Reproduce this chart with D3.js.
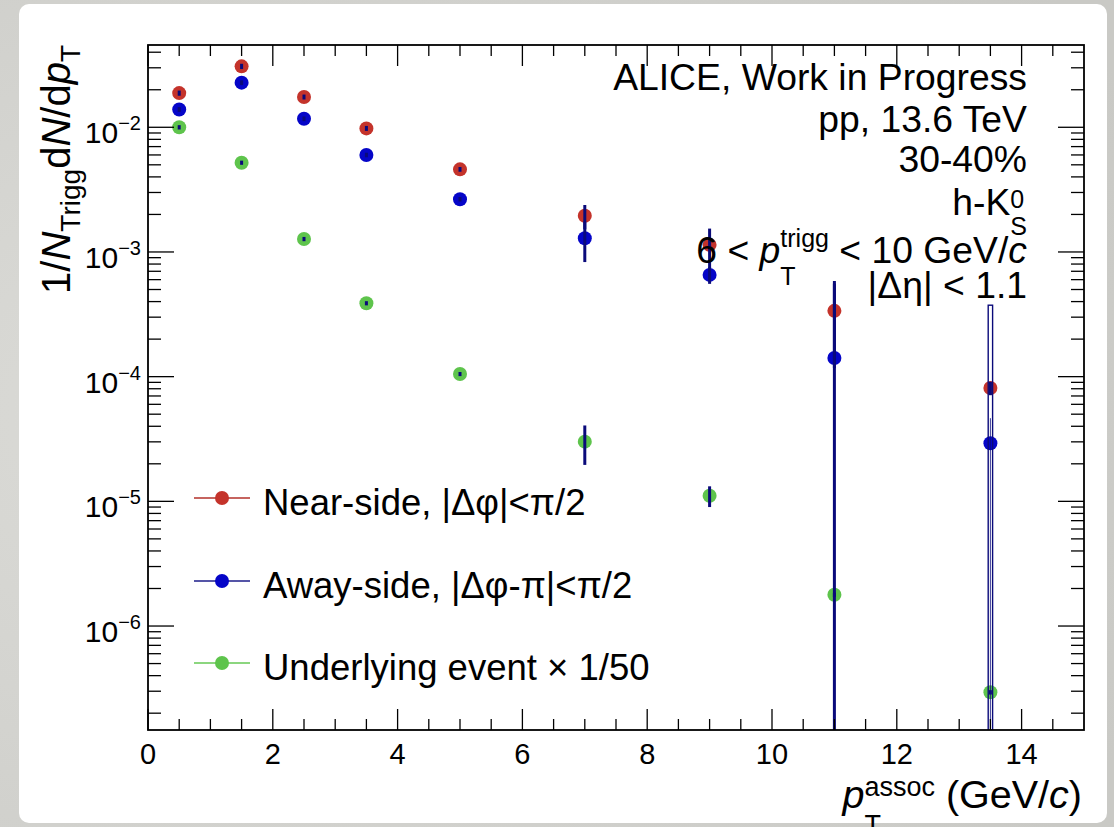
<!DOCTYPE html>
<html><head><meta charset="utf-8">
<script src="https://cdn.jsdelivr.net/npm/d3@7"></script>
<style>
body{margin:0;background:#fff;}
svg{display:block;}
text{font-family:"Liberation Sans",Arial,Helvetica,sans-serif;fill:#000;}
</style>
</head><body>
<svg id="c" width="1114" height="827"></svg>
<script>
// ---------------- data ----------------
const pT = [0.5, 1.5, 2.5, 3.5, 5, 7, 9, 11, 13.5];
const nearSide = [0.0188, 0.0308, 0.0175, 0.0098, 0.0046, 0.00195, 0.00114, 3.37e-4, 8.1e-5];
const nearErr  = [0.0009, 0.0015, 0.0008, 0.00045, 0.0002, 0.00043, 0.0004, 2.2e-4, 1e-5];
const awaySide = [0.0139, 0.0228, 0.0117, 0.0060, 0.00265, 0.00129, 6.55e-4, 1.41e-4, 2.92e-5];
const awayErr  = [0.0006, 0.001, 0.0005, 0.00025, 0.00011, 0.00046, 1.0e-4, 4.44e-4, 3.45e-4];
const underlying = [0.0100, 0.0052, 0.00127, 3.88e-4, 1.05e-4, 3.01e-5, 1.11e-5, 1.78e-6, 2.94e-7];
const ueErr      = [0.0004, 0.0002, 5e-5, 1.5e-5, 4e-6, 1.05e-5, 2.1e-6, 7e-8, 1.2e-8];
const xTickLabels = ["0", "2", "4", "6", "8", "10", "12", "14"];
const yTickExponents = [-6, -5, -4, -3, -2];
const legendLabels = ["Near-side, |\u0394\u03c6|<\u03c0/2", "Away-side, |\u0394\u03c6-\u03c0|<\u03c0/2", "Underlying event \u00d7 1/50"];

// ---------------- setup ----------------
const svg = d3.select("#c");
const W = 1114, H = 827;
const L = 148, R = 1084, T = 45, B = 730;

// background
const defs = svg.append("defs");
const rg = defs.append("radialGradient").attr("id", "bg").attr("cx", "20%").attr("cy", "50%").attr("r", "90%");
rg.append("stop").attr("offset", "0%").attr("stop-color", "#dcdcd8");
rg.append("stop").attr("offset", "100%").attr("stop-color", "#c9c9c5");
svg.append("rect").attr("width", W).attr("height", H).attr("fill", "url(#bg)");
svg.append("rect").attr("x", 19).attr("y", 4).attr("width", 1088).attr("height", 819).attr("rx", 10).attr("fill", "#fff");

const x = d3.scaleLinear().domain([0, 15]).range([L, R]);
const y = d3.scaleLog().domain([1.466e-7, 0.0457]).range([B, T]);

defs.append("clipPath").attr("id", "clip").append("rect")
  .attr("x", L).attr("y", T).attr("width", R - L).attr("height", B - T);

const colors = { near: "#c4332b", away: "#0505c8", ue: "#5ec44c" };
const lineColors = { near: "#b3302a", away: "#1c1c8a", ue: "#66c855" };
const errColor = "#0a0a7a";

// ---------------- rich text helper ----------------
function rich(parent, parts, size) {
  const g = parent.append("g");
  let cx = 0;
  parts.forEach(p => {
    if (p.stack) {
      let w = 0;
      p.stack.forEach(q => {
        const t = g.append("text").attr("x", cx).attr("y", q.dy || 0)
          .style("font-size", (q.size || size) + "px").text(q.t);
        if (q.it) t.style("font-style", "italic");
        w = Math.max(w, t.node().getComputedTextLength());
      });
      cx += w;
    } else {
      const t = g.append("text").attr("x", cx).attr("y", p.dy || 0)
        .style("font-size", (p.size || size) + "px").style("white-space", "pre")
        .attr("xml:space", "preserve").text(p.t);
      if (p.it) t.style("font-style", "italic");
      cx += t.node().getComputedTextLength();
    }
  });
  return { g, width: cx };
}

// ---------------- series ----------------
const series = [
  { key: "near", vals: nearSide, errs: nearErr },
  { key: "away", vals: awaySide, errs: awayErr },
  { key: "ue", vals: underlying, errs: ueErr }
];

const plot = svg.append("g").attr("clip-path", "url(#clip)");

// markers
series.forEach(s => {
  plot.selectAll(null).data(pT.map((p, i) => ({ p, v: s.vals[i] })))
    .enter().append("circle")
    .attr("cx", d => x(d.p)).attr("cy", d => y(d.v)).attr("r", 7)
    .attr("fill", colors[s.key]);
});

// error bars
const yMin = y.domain()[0];
series.forEach(s => {
  const pts = pT.map((p, i) => ({ p, v: s.vals[i], e: s.errs[i], last: i === pT.length - 1 }));
  pts.forEach(d => {
    const lo = d.v - d.e;
    const yLo = lo > yMin ? y(lo) : B + 2;
    const yHi = y(d.v + d.e);
    if (s.key === "away" && d.last) {
      plot.append("rect").attr("x", x(d.p) - 2.2).attr("y", yHi)
        .attr("width", 4.4).attr("height", yLo - yHi)
        .attr("fill", "none").attr("stroke", errColor).attr("stroke-width", 1.4);
      plot.append("line").attr("x1", x(d.p)).attr("x2", x(d.p))
        .attr("y1", y(d.v + d.e * 0.05)).attr("y2", yLo)
        .attr("stroke", errColor).attr("stroke-width", 0.8);
    } else {
      plot.append("line").attr("x1", x(d.p)).attr("x2", x(d.p))
        .attr("y1", yHi).attr("y2", yLo)
        .attr("stroke", errColor).attr("stroke-width", 3);
    }
  });
});

// ---------------- axes / frame ----------------
const ax = svg.append("g").attr("stroke", "#000").attr("stroke-width", 1.3);
ax.append("rect").attr("x", L).attr("y", T).attr("width", R - L).attr("height", B - T).attr("fill", "none").attr("stroke-width", 1.8);

// x ticks
const xMajor = d3.range(0, 15, 2);
const xMinor = d3.range(0.5, 15, 0.5).filter(v => v % 2 !== 0);
xMajor.forEach(v => {
  ax.append("line").attr("x1", x(v)).attr("x2", x(v)).attr("y1", B).attr("y2", B - 21);
  ax.append("line").attr("x1", x(v)).attr("x2", x(v)).attr("y1", T).attr("y2", T + 21);
});
xMinor.forEach(v => {
  ax.append("line").attr("x1", x(v)).attr("x2", x(v)).attr("y1", B).attr("y2", B - 11);
  ax.append("line").attr("x1", x(v)).attr("x2", x(v)).attr("y1", T).attr("y2", T + 11);
});
svg.append("g").selectAll("text").data(xMajor).enter().append("text")
  .attr("x", d => x(d)).attr("y", 764).attr("text-anchor", "middle")
  .style("font-size", "29px").text((d, i) => xTickLabels[i]);

// y ticks
const [d0, d1] = y.domain();
for (let k = -8; k <= -1; k++) {
  for (let m = 1; m <= 9; m++) {
    const v = m * Math.pow(10, k);
    if (v < d0 || v > d1) continue;
    const len = m === 1 ? 26 : 13;
    ax.append("line").attr("x1", L).attr("x2", L + len).attr("y1", y(v)).attr("y2", y(v));
    ax.append("line").attr("x1", R).attr("x2", R - len).attr("y1", y(v)).attr("y2", y(v));
  }
}
yTickExponents.forEach(k => {
  const t = svg.append("text").attr("x", 141).attr("y", y(Math.pow(10, k)) + 16)
    .attr("text-anchor", "end").style("font-size", "30px");
  t.append("tspan").text("10");
  t.append("tspan").attr("dy", -13).style("font-size", "20px").text("\u2212" + Math.abs(k));
});

// ---------------- axis titles ----------------
{
  const r = rich(svg, [
    { t: "1/" }, { t: "N", it: true }, { t: "Trigg", size: 28, dy: 10 },
    { t: "d" }, { t: "N", it: true }, { t: "/d" }, { t: "p", it: true }, { t: "T", size: 28, dy: 10 }
  ], 40);
  r.g.attr("transform", `translate(70,${T}) rotate(-90) translate(${-r.width},0)`);
}
{
  const r = rich(svg, [
    { t: "p", it: true },
    { stack: [{ t: "assoc", size: 27, dy: -12 }, { t: "T", size: 27, dy: 26 }] },
    { t: " (GeV/" }, { t: "c", it: true }, { t: ")" }
  ], 39.5);
  r.g.attr("transform", `translate(${1082 - r.width},808)`);
}

// ---------------- top-right text ----------------
const TX = 1027;
function rightText(parts, baseY) {
  const r = rich(svg, parts, 37.3);
  r.g.attr("transform", `translate(${TX - r.width},${baseY})`);
}
rightText([{ t: "ALICE, Work in Progress" }], 90);
rightText([{ t: "pp, 13.6 TeV" }], 132);
rightText([{ t: "30-40%" }], 172);
rightText([{ t: "h-K" }, { stack: [{ t: "0", size: 25, dy: -7 }, { t: "S", size: 25, dy: 20 }] }], 215);
rightText([{ t: "6 < " }, { t: "p", it: true },
  { stack: [{ t: "trigg", size: 25, dy: -16 }, { t: "T", size: 25, dy: 22 }] },
  { t: " < 10 GeV/" }, { t: "c", it: true }], 263);
rightText([{ t: "|\u0394\u03b7| < 1.1" }], 298);

// ---------------- legend ----------------
const legY = [498, 581, 663];
const legKeys = ["near", "away", "ue"];
legKeys.forEach((k, i) => {
  const g = svg.append("g");
  g.append("line").attr("x1", 194).attr("x2", 250).attr("y1", legY[i]).attr("y2", legY[i])
    .attr("stroke", lineColors[k]).attr("stroke-width", 1.6);
  g.append("circle").attr("cx", 222).attr("cy", legY[i]).attr("r", 7).attr("fill", colors[k]);
  g.append("text").attr("x", 263).attr("y", legY[i] + 17).style("font-size", "36.5px").text(legendLabels[i]);
});
</script>
</body></html>
